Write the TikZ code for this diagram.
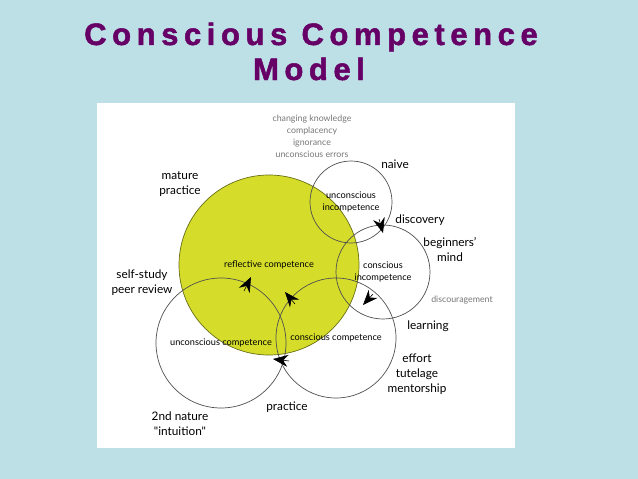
\documentclass[tikz,border=0pt]{standalone}
\usepackage{fontspec}
\setmainfont{Lato}
\newfontfamily\straightquotes[Ligatures=TeXOff]{Lato}
\newfontfamily\titlefont[LetterSpace=18,BoldFeatures={FakeBold=1.6}]{Liberation Sans}
\definecolor{SlideBlue}{RGB}{189,224,230}
\definecolor{TitlePurple}{RGB}{102,0,102}
\definecolor{PhaseYellow}{RGB}{213,221,42}
\definecolor{PhaseOlive}{RGB}{105,110,20}
\definecolor{RingGrey}{RGB}{80,80,80}
\definecolor{NoteGrey}{RGB}{120,120,120}
\usetikzlibrary{arrows.meta,positioning}

\begin{document}
\begin{tikzpicture}[x=1pt,y=-1pt,
  ring/.style={circle,draw=RingGrey,line width=0.7pt,inner sep=0pt,align=center,font=\fontsize{9.2}{12}\selectfont},
  tag/.style={align=center,font=\fontsize{11.8}{15}\selectfont},
  note/.style={align=center,text=NoteGrey,font=\fontsize{8.8}{12}\selectfont},
  head/.style={-{Stealth[length=15pt,width=12pt,inset=5pt]},line width=0.6pt}]
\fill[SlideBlue] (0,0) rectangle (638,479);
\fill[white] (97,103) rectangle (515,448);
\node[TitlePurple,anchor=base,font=\titlefont\bfseries\fontsize{31}{36}\selectfont] (title) at (311,45) {Conscious Competence};
\node[TitlePurple,anchor=base,font=\titlefont\bfseries\fontsize{31}{36}\selectfont] (model) at (309,80) {Model};

\node[ring,fill=PhaseYellow,draw=PhaseOlive,minimum size=180] (rc) at (269,265) {reflective competence};
\node[ring,minimum size=82] (ui) at (351,202) {unconscious\\incompetence};
\node[ring,minimum size=94] (ci) at (383,272) {conscious\\incompetence};
\node[ring,minimum size=120] (cc) at (336,338) {conscious competence};
\node[ring,minimum size=130] (uc) at (221,343) {unconscious competence};

\node[note] (errors) at (312,136) {changing knowledge\\complacency\\ignorance\\unconscious errors};
\node[note] (discourage) at (462,300) {discouragement};
\node[tag] (naive) at (395,164) {naive};
\node[tag] (discovery) at (420,220) {discovery};
\node[tag] (beginner) at (450,250) {beginners'\\mind};
\node[tag] (learning) at (428,326) {learning};
\node[tag] (effort) at (417,374) {effort\\tutelage\\mentorship};
\node[tag] (practice) at (287,407) {practice};
\node[tag,font=\straightquotes\fontsize{11.8}{15}\selectfont] (nature) at (180,424) {2nd nature\\"intuition"};
\node[tag] (selfstudy) at (142,283) {self-study\\peer review};
\node[tag] (mature) at (180,184) {mature\\practice};

\coordinate (h1a) at (379,219); \coordinate (h1b) at (383,233);
\coordinate (h2a) at (373,294); \coordinate (h2b) at (363,305);
\coordinate (h3a) at (289,361); \coordinate (h3b) at (273,359);
\coordinate (h4a) at (244,291); \coordinate (h4b) at (251,277);
\coordinate (h5a) at (295,304); \coordinate (h5b) at (285,292);
\draw[head] (h1a) -- (h1b);
\draw[head] (h2a) -- (h2b);
\draw[head] (h3a) -- (h3b);
\draw[head] (h4a) -- (h4b);
\draw[head] (h5a) -- (h5b);
\end{tikzpicture}
\end{document}
